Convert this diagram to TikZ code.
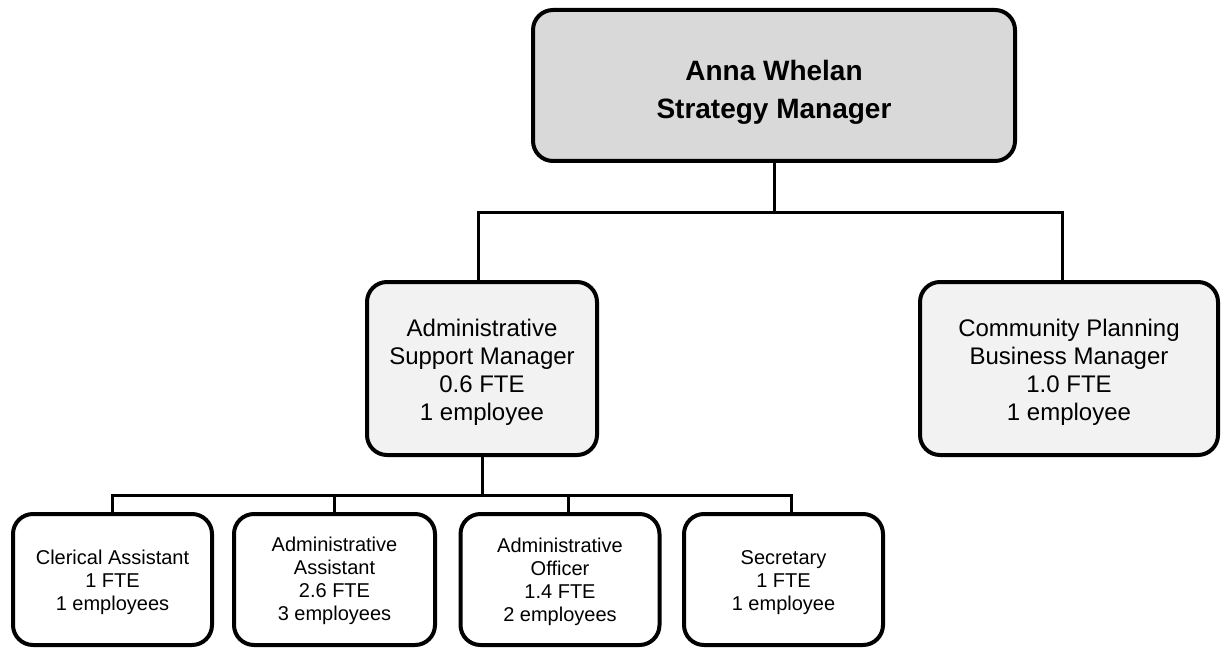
\documentclass[tikz,border=0pt]{standalone}
\usepackage{fontspec}
\setmainfont{Liberation Sans}
% centred lines, lowered by #1 without changing the box size the node sees
\newcommand{\lowlines}[2]{\raisebox{-#1}[\height][\depth]{\begin{tabular}{@{}c@{}}#2\end{tabular}}}
\begin{document}
\begin{tikzpicture}[x=1pt,y=-1pt,
  box/.style={draw=black, line width=4pt, rounded corners=20pt, inner sep=2pt},
  headbox/.style={box, fill=headgray, minimum width=482pt, minimum height=151pt,
    font=\fontsize{28}{38}\selectfont\bfseries},
  midbox/.style={box, fill=midgray, minimum height=173pt,
    font=\fontsize{24}{28}\selectfont},
  staffbox/.style={box, fill=white, minimum width=199pt, minimum height=131pt,
    font=\fontsize{20}{23}\selectfont},
  conn/.style={draw=black, line width=3pt}]
\definecolor{headgray}{HTML}{D9D9D9}
\definecolor{midgray}{HTML}{F2F2F2}
\useasboundingbox (0,0) rectangle (1222,652);

% head of the unit
\node[headbox] (head) at (774,85.5) {\lowlines{6pt}{Anna Whelan\\Strategy Manager}};

% second level
\node[midbox, minimum width=230pt] (asm) at (482,368.5)
  {\lowlines{4pt}{Administrative\\Support Manager\\0.6 FTE\\1 employee}};
\node[midbox, minimum width=298pt] (cpbm) at (1069,368.5)
  {\lowlines{4pt}{Community Planning\\Business Manager\\1.0 FTE\\1 employee}};

% support staff
\node[staffbox] (clerical) at (112.5,579.5)
  {\lowlines{3pt}{Clerical Assistant\\1 FTE\\1 employees}};
\node[staffbox, minimum width=201pt] (adminasst) at (334.5,579.5)
  {\lowlines{2pt}{Administrative\\Assistant\\2.6 FTE\\3 employees}};
\node[staffbox] (adminoff) at (560,579.5)
  {\lowlines{3pt}{Administrative\\Officer\\1.4 FTE\\2 employees}};
\node[staffbox] (secretary) at (783.5,579.5)
  {\lowlines{3pt}{Secretary\\1 FTE\\1 employee}};

% reporting lines
\coordinate (upperbus) at (774,213);
\coordinate (lowerbus) at (482,495);
\draw[conn] (head.south) -- (upperbus);
\draw[conn] (upperbus) -| ([xshift=-4pt]asm.north);
\draw[conn] (upperbus) -| ([xshift=-7pt]cpbm.north);
\draw[conn] (asm.south) -- (lowerbus);
\draw[conn] (lowerbus) -| (clerical.north);
\draw[conn] (lowerbus) -| (adminasst.north);
\draw[conn] (lowerbus) -| ([xshift=8pt]adminoff.north);
\draw[conn] (lowerbus) -| ([xshift=7.5pt]secretary.north);
\end{tikzpicture}
\end{document}
